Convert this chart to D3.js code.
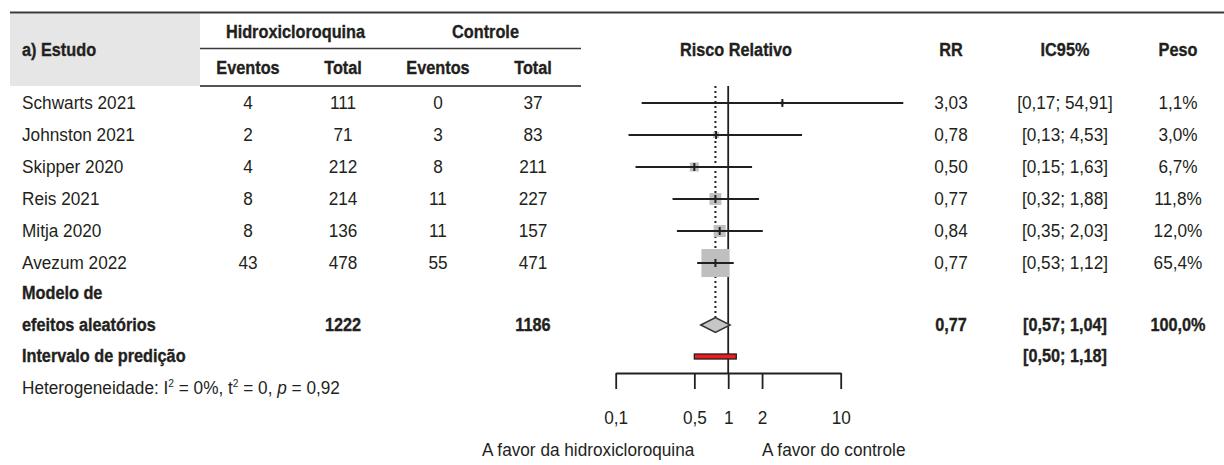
<!DOCTYPE html>
<html>
<head>
<meta charset="utf-8">
<script src="https://cdn.jsdelivr.net/npm/d3@7"></script>
<style>
  body { margin: 0; background: #fff; }
  svg { display: block; }
</style>
</head>
<body>
<div id="chart"></div>
<script>
// dados por estudo
const studies = ['Schwarts 2021', 'Johnston 2021', 'Skipper 2020', 'Reis 2021', 'Mitja 2020', 'Avezum 2022']
const hcqEvents = [4, 2, 4, 8, 8, 43]
const hcqTotal = [111, 71, 212, 214, 136, 478]
const ctrlEvents = [0, 3, 8, 11, 11, 55]
const ctrlTotal = [37, 83, 211, 227, 157, 471]
const rr = [3.03, 0.78, 0.50, 0.77, 0.84, 0.77]
const ciLow = [0.17, 0.13, 0.15, 0.32, 0.35, 0.53]
const ciHigh = [54.91, 4.53, 1.63, 1.88, 2.03, 1.12]
const weight = [1.1, 3.0, 6.7, 11.8, 12.0, 65.4]

// modelo de efeitos aleatorios
const pooledTotals = [1222, 1186]
const pooledRR = [0.77, 0.57, 1.04]
const pooledWeight = 100
const prediction = [0.50, 1.18]

const axisTicks = [0.1, 0.5, 1, 2, 10]
const plotLimits = [0.1, 36]

// fonte condensada simulada (sem Arial Narrow disponivel)
const FONT = "'Liberation Sans', Arial, sans-serif"
const FS = 18.5
const SX = 0.93
const SXB = 0.88
const INK = '#231f20'

const locale = d3.formatLocale({ decimal: ',', thousands: '.', grouping: [3], currency: ['R$', ''] })
const f2 = locale.format('.2f')
const f1 = locale.format('.1f')
const fTick = locale.format('~g')
const ci = (lo, hi) => `[${f2(lo)}; ${f2(hi)}]`

const width = 1224
const height = 465

const svg = d3.select('#chart')
  .append('svg')
  .attr('width', width)
  .attr('height', height)
  .attr('viewBox', `0 0 ${width} ${height}`)
  .style('font-family', FONT)
  .style('font-size', FS + 'px')
  .attr('fill', INK)

// colunas
const col = {
  study: 22,
  hcqEv: 248,
  hcqTot: 343,
  ctrlEv: 438,
  ctrlTot: 533,
  forest: 736,
  rr: 951,
  ci: 1065,
  peso: 1178
}

const rowY = d3.scaleLinear().domain([0, studies.length - 1]).range([103, 263])
const modelY1 = 293
const modelY2 = 325
const predY = 356
const hetY = 388

const x = d3.scaleLog().domain([0.1, 10]).range([615.7, 840.7])

const label = (parent, px, py, str, anchor = 'middle', bold = false) => parent.append('text')
  .attr('transform', `translate(${px},${py}) scale(${bold ? SXB : SX},1)`)
  .attr('dy', '0.35em')
  .attr('text-anchor', anchor)
  .attr('font-weight', bold ? 'bold' : null)
  .attr('stroke', bold ? INK : null)
  .attr('stroke-width', bold ? 0.35 : null)
  .text(str)

// cabecalho
svg.append('rect')
  .attr('x', 10).attr('y', 13.5)
  .attr('width', 190).attr('height', 72.5)
  .attr('fill', '#e6e6e7')

svg.append('line')
  .attr('x1', 10).attr('x2', 1224)
  .attr('y1', 12.5).attr('y2', 12.5)
  .attr('stroke', '#3a3a3a').attr('stroke-width', 2)

svg.append('line')
  .attr('x1', 200).attr('x2', 581)
  .attr('y1', 48.5).attr('y2', 48.5)
  .attr('stroke', '#3a3a3a').attr('stroke-width', 1.5)

svg.append('line')
  .attr('x1', 200).attr('x2', 581)
  .attr('y1', 86).attr('y2', 86)
  .attr('stroke', '#555').attr('stroke-width', 2)

const head = svg.append('g')
label(head, col.study, 50, 'a) Estudo', 'start', true)
label(head, (col.hcqEv + col.hcqTot) / 2, 32, 'Hidroxicloroquina', 'middle', true)
label(head, (col.ctrlEv + col.ctrlTot) / 2, 32, 'Controle', 'middle', true)
label(head, col.hcqEv, 68, 'Eventos', 'middle', true)
label(head, col.hcqTot, 68, 'Total', 'middle', true)
label(head, col.ctrlEv, 68, 'Eventos', 'middle', true)
label(head, col.ctrlTot, 68, 'Total', 'middle', true)
label(head, col.forest, 50, 'Risco Relativo', 'middle', true)
label(head, col.rr, 50, 'RR', 'middle', true)
label(head, col.ci, 50, 'IC95%', 'middle', true)
label(head, col.peso, 50, 'Peso', 'middle', true)

// linhas dos estudos
const table = svg.append('g')
studies.forEach((name, i) => {
  const ry = rowY(i)
  label(table, col.study, ry, name, 'start')
  label(table, col.hcqEv, ry, hcqEvents[i])
  label(table, col.hcqTot, ry, hcqTotal[i])
  label(table, col.ctrlEv, ry, ctrlEvents[i])
  label(table, col.ctrlTot, ry, ctrlTotal[i])
  label(table, col.rr, ry, f2(rr[i]))
  label(table, col.ci, ry, ci(ciLow[i], ciHigh[i]))
  label(table, col.peso, ry, f1(weight[i]) + '%')
})

// resumo
const summary = svg.append('g')
label(summary, col.study, modelY1, 'Modelo de', 'start', true)
label(summary, col.study, modelY2, 'efeitos aleatórios', 'start', true)
label(summary, col.hcqTot, modelY2, pooledTotals[0], 'middle', true)
label(summary, col.ctrlTot, modelY2, pooledTotals[1], 'middle', true)
label(summary, col.rr, modelY2, f2(pooledRR[0]), 'middle', true)
label(summary, col.ci, modelY2, ci(pooledRR[1], pooledRR[2]), 'middle', true)
label(summary, col.peso, modelY2, f1(pooledWeight) + '%', 'middle', true)
label(summary, col.study, predY, 'Intervalo de predição', 'start', true)
label(summary, col.ci, predY, ci(prediction[0], prediction[1]), 'middle', true)

const het = label(svg, col.study, hetY, '', 'start')
het.append('tspan').text('Heterogeneidade: I')
het.append('tspan').attr('dy', -7).attr('font-size', 11).text('2')
het.append('tspan').attr('dy', 7).text(' = 0%, t')
het.append('tspan').attr('dy', -7).attr('font-size', 11).text('2')
het.append('tspan').attr('dy', 7).text(' = 0, ')
het.append('tspan').attr('font-style', 'italic').text('p')
het.append('tspan').text(' = 0,92')

// grafico de floresta
const axisY = 373
const plotTop = 86
const diamondH = 7.5
const forest = svg.append('g')

forest.append('line')
  .attr('x1', x(pooledRR[0])).attr('x2', x(pooledRR[0]))
  .attr('y1', plotTop).attr('y2', modelY2 - diamondH)
  .attr('stroke', INK).attr('stroke-width', 2)
  .attr('stroke-dasharray', '2,3')

forest.append('line')
  .attr('x1', x(1)).attr('x2', x(1))
  .attr('y1', plotTop).attr('y2', axisY)
  .attr('stroke', INK).attr('stroke-width', 1.8)

const side = d3.scaleSqrt().domain([0, d3.max(weight)]).range([0, 28])

const marks = forest.selectAll('g.study')
  .data(studies)
  .join('g')
  .attr('class', 'study')
  .attr('transform', (d, i) => `translate(0,${rowY(i)})`)

marks.append('rect')
  .attr('x', (d, i) => x(rr[i]) - side(weight[i]) / 2)
  .attr('y', (d, i) => -side(weight[i]) / 2)
  .attr('width', (d, i) => side(weight[i]))
  .attr('height', (d, i) => side(weight[i]))
  .attr('fill', '#bfbfbf')

marks.append('line')
  .attr('x1', (d, i) => x(Math.max(ciLow[i], plotLimits[0])))
  .attr('x2', (d, i) => x(Math.min(ciHigh[i], plotLimits[1])))
  .attr('stroke', INK).attr('stroke-width', 1.8)

marks.append('line')
  .attr('x1', (d, i) => x(rr[i])).attr('x2', (d, i) => x(rr[i]))
  .attr('y1', -4).attr('y2', 4)
  .attr('stroke', INK).attr('stroke-width', 2)

forest.append('path')
  .attr('d', [
    [x(pooledRR[1]), modelY2],
    [x(pooledRR[0]), modelY2 - diamondH],
    [x(pooledRR[2]), modelY2],
    [x(pooledRR[0]), modelY2 + diamondH]
  ].map((p, i) => (i ? 'L' : 'M') + p.join(',')).join('') + 'Z')
  .attr('fill', '#c6c6c6')
  .attr('stroke', '#333').attr('stroke-width', 1.5)

forest.append('rect')
  .attr('x', x(prediction[0]))
  .attr('y', predY - 2)
  .attr('width', x(prediction[1]) - x(prediction[0]))
  .attr('height', 5)
  .attr('fill', '#ee1c1c')
  .attr('stroke', INK).attr('stroke-width', 1.3)

const axis = forest.append('g')
  .attr('transform', `translate(0,${axisY})`)
  .call(d3.axisBottom(x)
    .tickValues(axisTicks)
    .tickFormat(fTick)
    .tickSize(16)
    .tickSizeOuter(0)
    .tickPadding(22))

axis.select('.domain').attr('stroke', INK).attr('stroke-width', 1.8)
axis.selectAll('.tick line').attr('stroke', INK).attr('stroke-width', 1.8)
axis.selectAll('.tick text')
  .attr('fill', INK)
  .attr('transform', `scale(${SX},1)`)
  .style('font-family', FONT)
  .style('font-size', FS + 'px')

label(forest, x(0.5), 450, 'A favor da hidroxicloroquina', 'end')
label(forest, x(2), 450, 'A favor do controle', 'start')
</script>
</body>
</html>
